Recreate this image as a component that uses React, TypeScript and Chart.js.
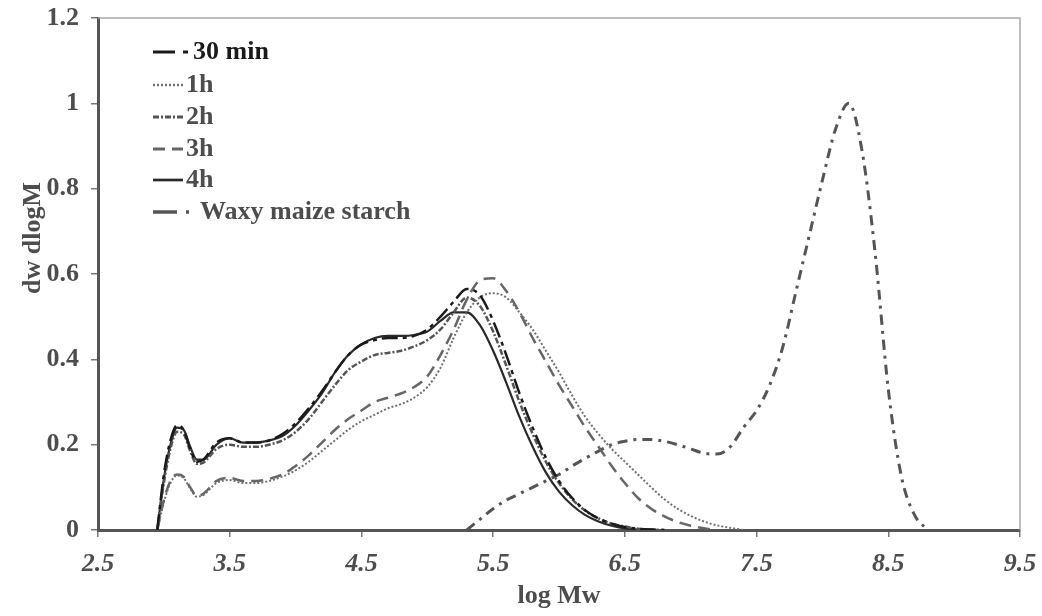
import React, { useEffect, useRef } from "react";
import { Chart, registerables } from "chart.js";

Chart.register(...registerables);

// ---- data ----
const logMw = [2.95, 3.0, 3.05, 3.1, 3.15, 3.2, 3.25, 3.3, 3.4, 3.5, 3.6, 3.7, 3.8, 3.9, 4.0, 4.1, 4.2, 4.3, 4.4, 4.5, 4.6, 4.7, 4.8, 4.9, 5.0, 5.1, 5.2, 5.3, 5.4, 5.5, 5.6, 5.7, 5.8, 5.9, 6.0, 6.1, 6.2, 6.3, 6.4, 6.5, 6.6, 6.7, 6.8, 6.9, 7.0, 7.1, 7.2, 7.3, 7.4];

const min30 = [0, 0.13, 0.21, 0.245, 0.235, 0.19, 0.16, 0.165, 0.205, 0.215, 0.205, 0.205, 0.21, 0.225, 0.25, 0.285, 0.325, 0.37, 0.41, 0.435, 0.445, 0.45, 0.45, 0.455, 0.47, 0.5, 0.535, 0.565, 0.55, 0.49, 0.41, 0.32, 0.24, 0.17, 0.115, 0.075, 0.046, 0.027, 0.015, 0.007, 0.003, 0.001, 0];
const h1 = [0, 0.065, 0.11, 0.128, 0.122, 0.097, 0.078, 0.082, 0.11, 0.117, 0.11, 0.11, 0.115, 0.125, 0.14, 0.16, 0.185, 0.21, 0.235, 0.255, 0.27, 0.285, 0.295, 0.31, 0.335, 0.38, 0.45, 0.51, 0.545, 0.555, 0.545, 0.51, 0.47, 0.42, 0.37, 0.315, 0.265, 0.225, 0.19, 0.16, 0.13, 0.1, 0.072, 0.05, 0.033, 0.02, 0.011, 0.005, 0];
const h2 = [0, 0.11, 0.19, 0.23, 0.225, 0.185, 0.155, 0.158, 0.19, 0.2, 0.195, 0.195, 0.2, 0.21, 0.23, 0.26, 0.3, 0.34, 0.375, 0.395, 0.41, 0.415, 0.42, 0.43, 0.445, 0.47, 0.51, 0.545, 0.525, 0.465, 0.385, 0.3, 0.225, 0.16, 0.11, 0.072, 0.045, 0.027, 0.015, 0.008, 0.003, 0.001, 0];
const h3 = [0, 0.07, 0.115, 0.13, 0.125, 0.1, 0.08, 0.085, 0.115, 0.122, 0.115, 0.115, 0.12, 0.13, 0.15, 0.175, 0.205, 0.235, 0.26, 0.28, 0.3, 0.31, 0.32, 0.335, 0.36, 0.41, 0.47, 0.54, 0.585, 0.59, 0.56, 0.51, 0.45, 0.395, 0.34, 0.29, 0.24, 0.195, 0.15, 0.11, 0.075, 0.05, 0.032, 0.019, 0.01, 0.004, 0];
const h4 = [0, 0.12, 0.2, 0.24, 0.235, 0.195, 0.165, 0.165, 0.2, 0.215, 0.205, 0.205, 0.21, 0.22, 0.245, 0.28, 0.32, 0.37, 0.41, 0.435, 0.45, 0.455, 0.455, 0.457, 0.465, 0.49, 0.51, 0.51, 0.48, 0.42, 0.345, 0.265, 0.195, 0.135, 0.09, 0.058, 0.035, 0.02, 0.01, 0.004, 0.001, 0];

const waxyMw = [5.3, 5.4, 5.5, 5.6, 5.7, 5.8, 5.9, 6.0, 6.1, 6.2, 6.3, 6.4, 6.5, 6.6, 6.7, 6.8, 6.9, 7.0, 7.1, 7.2, 7.3, 7.4, 7.5, 7.6, 7.7, 7.8, 7.9, 8.0, 8.1, 8.2, 8.3, 8.4, 8.5, 8.6, 8.7, 8.8];
const waxy = [0, 0.025, 0.05, 0.07, 0.085, 0.1, 0.115, 0.13, 0.15, 0.168, 0.185, 0.2, 0.208, 0.212, 0.212, 0.208, 0.2, 0.19, 0.18, 0.178, 0.195, 0.24, 0.28, 0.34, 0.43, 0.56, 0.69, 0.82, 0.94, 1.0, 0.89, 0.65, 0.33, 0.125, 0.035, 0];

const seriesLabels = ["30 min", "1h", "2h", "3h", "4h", "Waxy maize starch"];
const xTicks = [2.5, 3.5, 4.5, 5.5, 6.5, 7.5, 8.5, 9.5];
const yTicks = [0, 0.2, 0.4, 0.6, 0.8, 1.0, 1.2];
const xTitle = "log Mw";
const yTitle = "dw dlogM";

// ---- styles ----
const styles = [
  { color: "#1a1a1a", width: 2.5, dash: [16, 5, 4, 5] },
  { color: "#707070", width: 2, dash: [2, 2] },
  { color: "#555555", width: 2.5, dash: [6, 2, 2, 2] },
  { color: "#666666", width: 2.5, dash: [12, 7] },
  { color: "#2a2a2a", width: 2.2, dash: [] },
  { color: "#555555", width: 3, dash: [10, 6, 3, 6] },
];

const FONT = "'Liberation Serif', 'Times New Roman', serif";
const TEXT = "#4d4d4d";
const FS = 26;

function pts(xs: number[], ys: number[]) {
  return ys.map((y, i) => ({ x: xs[i], y }));
}

const decorPlugin = {
  id: "decor",
  afterDraw(chart: any) {
    const { ctx, chartArea } = chart;
    const { left, right, top, bottom } = chartArea;
    ctx.save();
    // top & right frame
    ctx.strokeStyle = "#a8a8a8";
    ctx.lineWidth = 1.5;
    ctx.setLineDash([]);
    ctx.beginPath();
    ctx.moveTo(left, top);
    ctx.lineTo(right, top);
    ctx.lineTo(right, bottom);
    ctx.stroke();

    // axis titles
    ctx.fillStyle = TEXT;
    ctx.font = `bold ${FS}px ${FONT}`;
    ctx.textAlign = "center";
    ctx.textBaseline = "middle";
    ctx.fillText(xTitle, (left + right) / 2, 596);
    ctx.save();
    ctx.translate(33, 238);
    ctx.rotate(-Math.PI / 2);
    ctx.fillText(yTitle, 0, 0);
    ctx.restore();

    // legend
    const rowY = [52, 85, 117, 149, 180, 212];
    chart.data.datasets.forEach((ds: any, i: number) => {
      const y = rowY[i];
      const isWaxy = i === 5;
      const x0 = 153;
      const x1 = i === 0 ? 190 : isWaxy ? 192 : 183;
      ctx.strokeStyle = ds.borderColor;
      ctx.lineWidth = ds.borderWidth + 0.5;
      ctx.setLineDash(i === 0 ? [22, 8, 5, 8] : isWaxy ? [24, 9, 3, 9] : ds.borderDash || []);
      ctx.beginPath();
      ctx.moveTo(x0, y);
      ctx.lineTo(x1, y);
      ctx.stroke();
      ctx.setLineDash([]);
      ctx.fillStyle = i === 0 ? "#1a1a1a" : TEXT;
      ctx.font = `bold ${FS}px ${FONT}`;
      ctx.textAlign = "left";
      ctx.textBaseline = "middle";
      const tx = i === 0 ? 193 : isWaxy ? 200 : 186;
      ctx.fillText(ds.label, tx, y);
    });
    ctx.restore();
  },
};

export default function App() {
  const ref = useRef<HTMLCanvasElement | null>(null);
  useEffect(() => {
    if (!ref.current) return;
    const allY = [min30, h1, h2, h3, h4];
    const datasets: any[] = allY.map((ys, i) => ({
      label: seriesLabels[i],
      data: pts(logMw, ys),
      borderColor: styles[i].color,
      borderWidth: styles[i].width,
      borderDash: styles[i].dash,
      pointRadius: 0,
      fill: false,
      cubicInterpolationMode: "monotone",
    }));
    datasets.push({
      label: seriesLabels[5],
      data: pts(waxyMw, waxy),
      borderColor: styles[5].color,
      borderWidth: styles[5].width,
      borderDash: styles[5].dash,
      pointRadius: 0,
      fill: false,
      cubicInterpolationMode: "monotone",
    });

    const chart = new Chart(ref.current, {
      type: "line",
      data: { datasets },
      options: {
        animation: false,
        responsive: false,
        maintainAspectRatio: false,
        layout: { padding: { top: 18, right: 22, left: 0, bottom: 0 } },
        plugins: { legend: { display: false }, tooltip: { enabled: false } },
        scales: {
          x: {
            type: "linear",
            min: 2.5,
            max: 9.5,
            afterBuildTicks: (s: any) => {
              s.ticks = xTicks.map((v) => ({ value: v }));
            },
            afterFit: (s: any) => {
              s.height = 86;
              s.paddingLeft = 0;
              s.paddingRight = 0;
            },
            ticks: {
              autoSkip: false,
              maxRotation: 0,
              padding: 12,
              color: TEXT,
              font: { family: FONT, size: FS, weight: "bold", style: "italic" },
              callback: (v: any) => String(v),
            },
            grid: { display: true, drawOnChartArea: false, drawTicks: true, tickLength: 7, color: "#777", lineWidth: 1.5 },
            border: { display: true, color: "#555", width: 3 },
          },
          y: {
            type: "linear",
            min: 0,
            max: 1.2,
            afterBuildTicks: (s: any) => {
              s.ticks = yTicks.map((v) => ({ value: v }));
            },
            afterFit: (s: any) => {
              s.width = 98;
              s.paddingTop = 0;
              s.paddingBottom = 0;
            },
            ticks: {
              autoSkip: false,
              padding: 12,
              color: TEXT,
              font: { family: FONT, size: FS, weight: "bold" },
              callback: (v: any) => String(+Number(v).toFixed(1)),
            },
            grid: { display: true, drawOnChartArea: false, drawTicks: true, tickLength: 7, color: "#777", lineWidth: 1.5 },
            border: { display: true, color: "#555", width: 3 },
          },
        },
      },
      plugins: [decorPlugin],
    } as any);
    return () => chart.destroy();
  }, []);

  return (
    <div style={{ position: "fixed", left: 0, top: 0, width: 1042, height: 616, background: "#fff" }}>
      <canvas ref={ref} width={1042} height={616} style={{ width: 1042, height: 616, display: "block" }} />
    </div>
  );
}
